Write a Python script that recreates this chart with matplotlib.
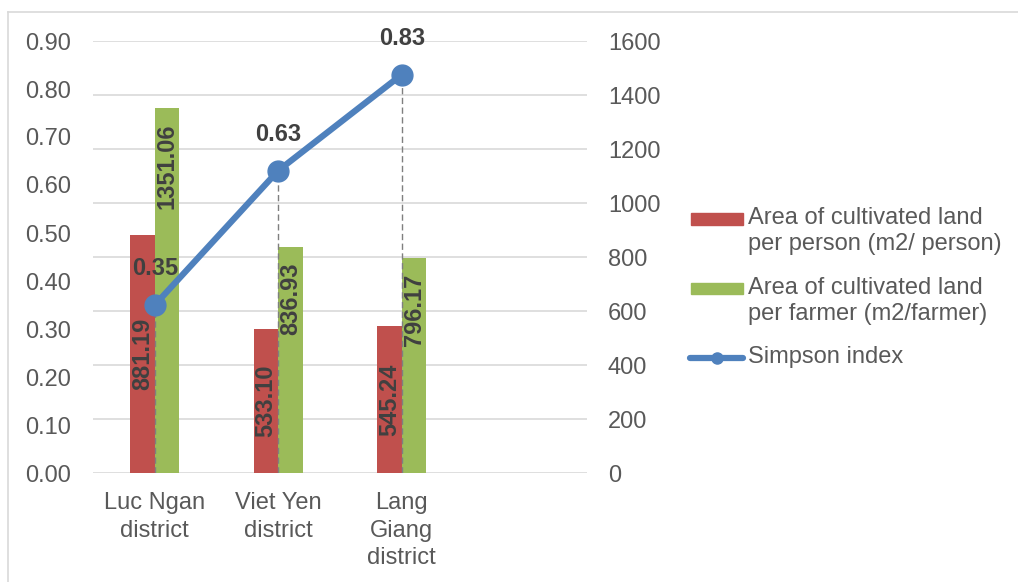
import numpy as np
import matplotlib
matplotlib.use("Agg")
import matplotlib.pyplot as plt
from matplotlib.lines import Line2D
from matplotlib.patches import Rectangle

plt.rcParams['font.family'] = ['Liberation Sans', 'DejaVu Sans']

# ---- data ----
districts = ["Luc Ngan\ndistrict", "Viet Yen\ndistrict", "Lang\nGiang\ndistrict", ""]
area_per_person = [881.19, 533.10, 545.24]
area_per_farmer = [1351.06, 836.93, 796.17]
simpson_index = [0.35, 0.63, 0.83]

label_person = "Area of cultivated land\nper person (m2/ person)"
label_farmer = "Area of cultivated land\nper farmer (m2/farmer)"
label_simpson = "Simpson index"

RED = "#C0504D"
GREEN = "#9BBB59"
BLUE = "#4F81BD"
TXT = "#595959"
LBL = "#404040"
GRID = "#D9D9D9"
FS = 17

W, H = 1018, 582
fig = plt.figure(figsize=(W / 100, H / 100), dpi=100)


def fx(px):
    return px / W


def fy(py):
    return 1 - py / H


# bars on the area axis (right-hand scale, with gridlines)
ax = fig.add_axes([fx(93), fy(473), fx(587 - 93), (473 - 41) / H])
x = np.arange(len(area_per_person))
bw = 0.2
bars_p = ax.bar(x - bw / 2, area_per_person, bw, color=RED, zorder=2)
bars_f = ax.bar(x + bw / 2, area_per_farmer, bw, color=GREEN, zorder=2)

ax.set_xlim(-0.5, len(districts) - 0.5)
ax.set_ylim(0, 1600)
ax.set_yticks(np.arange(0, 1601, 200))
ax.grid(axis='y', color=GRID, lw=1.2, zorder=0)
ax.set_axisbelow(True)
ax.set_xticks(np.arange(len(districts)))
ax.set_xticklabels(districts)
for t in ax.get_xticklabels():
    t.set_linespacing(1.3)
ax.tick_params(axis='x', length=0, labelsize=FS, labelcolor=TXT, pad=14)
for s in ax.spines.values():
    s.set_visible(False)

# value labels: centered in the red bars, at the inner end of the green bars
for b, v in zip(bars_p, area_per_person):
    ax.text(b.get_x() + b.get_width() / 2, v / 2, f"{v:.2f}", rotation=90,
            ha='center', va='center', fontsize=FS, fontweight='bold', color=LBL, zorder=4)
for b, v in zip(bars_f, area_per_farmer):
    ax.annotate(f"{v:.2f}", (b.get_x() + b.get_width() / 2, v), xytext=(0, -11),
                textcoords='offset points', rotation=90, ha='center', va='top',
                fontsize=FS, fontweight='bold', color=LBL, zorder=4)

# Simpson index on the left-hand scale
ax2 = ax.twinx()
ax.yaxis.tick_right()
ax.tick_params(axis='y', length=0, labelsize=FS, labelcolor=TXT, pad=15,
               left=False, labelleft=False, right=False, labelright=True)
ax2.yaxis.tick_left()
ax2.set_ylim(0, 0.9)
ax2.set_yticks(np.arange(0, 0.91, 0.1))
ax2.set_yticklabels([f"{v:.2f}" for v in np.arange(0, 0.91, 0.1)])
ax2.tick_params(axis='y', length=0, labelsize=FS, labelcolor=TXT, pad=16,
                right=False, labelright=False, left=False, labelleft=True)
for s in ax2.spines.values():
    s.set_visible(False)

ax2.vlines(x, 0, simpson_index, colors="#7F7F7F", linestyles=(0, (4.5, 2.5)), lw=1.0, zorder=2)
ax2.plot(x, simpson_index, color=BLUE, lw=4.5, marker='o', ms=15, zorder=3,
         solid_capstyle='round')
for xi, s in zip(x, simpson_index):
    ax2.annotate(f"{s:.2f}", (xi, s), xytext=(0, 26), textcoords='offset points',
                 ha='center', va='center', fontsize=FS, fontweight='bold', color=LBL, zorder=5)

# legend
fig.add_artist(Rectangle((fx(691), fy(224.5)), fx(52), 11.5 / H, transform=fig.transFigure,
                         color=RED))
fig.text(fx(748), fy(231), label_person, fontsize=FS, color=TXT, ha='left', va='center',
         linespacing=1.22)
fig.add_artist(Rectangle((fx(691), fy(294)), fx(52), 11.5 / H, transform=fig.transFigure,
                         color=GREEN))
fig.text(fx(748), fy(301), label_farmer, fontsize=FS, color=TXT, ha='left', va='center',
         linespacing=1.22)
fig.add_artist(Line2D([fx(690), fx(743)], [fy(357.5), fy(357.5)], transform=fig.transFigure,
                      color=BLUE, lw=4.5, solid_capstyle='round'))
fig.add_artist(Line2D([fx(716.5)], [fy(357.5)], transform=fig.transFigure, color=BLUE,
                      marker='o', ms=8, lw=0))
fig.text(fx(748), fy(357), label_simpson, fontsize=FS, color=TXT, ha='left', va='center')

# chart frame
fig.add_artist(Line2D([fx(8), fx(8)], [fy(12), 0], transform=fig.transFigure, color=GRID, lw=1.2))
fig.add_artist(Line2D([fx(8), 1], [fy(12), fy(12)], transform=fig.transFigure, color=GRID, lw=1.2))

fig.savefig("out.png", dpi=100, facecolor="white")
